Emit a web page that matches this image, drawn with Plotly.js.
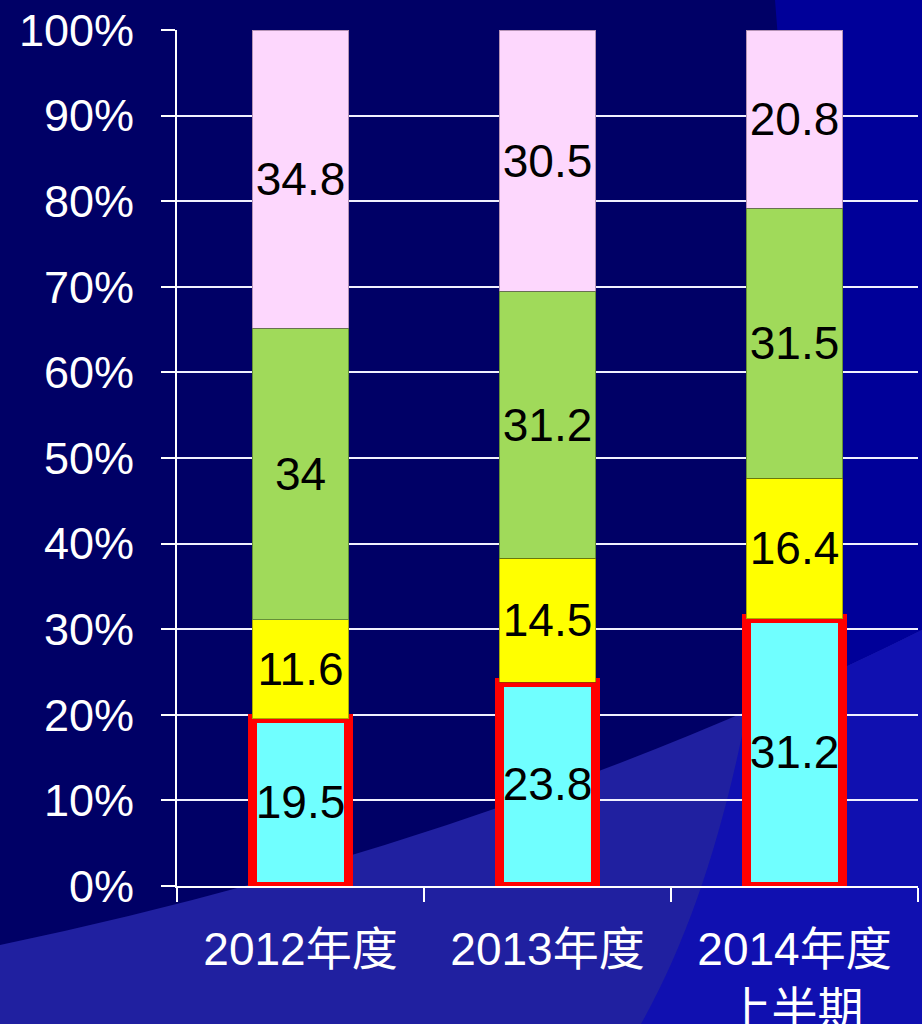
<!DOCTYPE html>
<html>
<head>
<meta charset="utf-8">
<script src="https://cdn.plot.ly/plotly-3.0.1.min.js"></script>
<style>
  html, body { margin: 0; padding: 0; background: #000066; }
  #wrap { position: relative; width: 922px; height: 1024px; overflow: hidden; }
  #bg { position: absolute; left: 0; top: 0; }
  #chart { position: absolute; left: 0; top: 0; width: 922px; height: 1024px; }
</style>
</head>
<body>
<div id="wrap">
  <svg id="bg" width="922" height="1024" viewBox="0 0 922 1024">
    <defs>
      <clipPath id="bandClip">
        <path d="M 0 945 Q 500 840 922 630 L 922 1024 L 0 1024 Z"/>
      </clipPath>
    </defs>
    <rect x="0" y="0" width="922" height="1024" fill="#000066"/>
    <path d="M 775 0 C 800 300, 790 760, 641 1024 L 922 1024 L 922 0 Z" fill="#000099"/>
    <path d="M 0 945 Q 500 840 922 630 L 922 1024 L 0 1024 Z" fill="#2020a0"/>
    <path d="M 775 0 C 800 300, 790 760, 641 1024 L 922 1024 L 922 0 Z" fill="#1010b0" clip-path="url(#bandClip)"/>
  </svg>
  <div id="chart"></div>
</div>
<script>
const categories = ['2012年度', '2013年度', '2014年度<br>上半期'];
const seriesCyan = [19.5, 23.8, 31.2];
const seriesYellow = [11.6, 14.5, 16.4];
const seriesGreen = [34, 31.2, 31.5];
const seriesPink = [34.8, 30.5, 20.8];
const yTickVals = [0, 10, 20, 30, 40, 50, 60, 70, 80, 90, 100];
const yTickText = ['0%', '10%', '20%', '30%', '40%', '50%', '60%', '70%', '80%', '90%', '100%'];

const FONT = 'Liberation Sans, Arial, "Noto Sans CJK SC", sans-serif';

function barTrace(values, color, line) {
  return {
    type: 'bar',
    x: categories,
    y: values,
    text: values.map(v => String(v)),
    texttemplate: '%{text}',
    textposition: 'inside',
    insidetextanchor: 'middle',
    constraintext: 'none',
    textangle: 0,
    textfont: { family: FONT, size: 46, color: '#000000' },
    marker: { color: color, line: line },
    hoverinfo: 'skip'
  };
}

const data = [
  barTrace(seriesCyan, '#70ffff', { color: '#ff0000', width: 9 }),
  barTrace(seriesYellow, '#ffff00', { color: 'rgba(90,90,0,0.5)', width: 1 }),
  barTrace(seriesGreen, '#a0da5a', { color: 'rgba(40,70,20,0.5)', width: 1 }),
  barTrace(seriesPink, '#fdd7fd', { color: 'rgba(110,80,110,0.5)', width: 1 })
];

const layout = {
  width: 922,
  height: 1024,
  margin: { l: 177, r: 4, t: 30, b: 138 },
  paper_bgcolor: 'rgba(0,0,0,0)',
  plot_bgcolor: 'rgba(0,0,0,0)',
  barmode: 'stack',
  barnorm: 'percent',
  bargap: 0.61,
  showlegend: false,
  font: { family: FONT, color: '#ffffff' },
  xaxis: {
    type: 'category',
    range: [-0.5, 2.5],
    tickson: 'boundaries',
    ticks: 'outside',
    ticklen: 14,
    tickwidth: 2,
    tickcolor: '#ffffff',
    showline: true,
    linecolor: '#ffffff',
    linewidth: 2,
    showgrid: false,
    tickfont: { family: FONT, size: 46, color: '#ffffff' },
    ticklabelstandoff: 22,
    fixedrange: true
  },
  yaxis: {
    range: [0, 100],
    tickmode: 'array',
    tickvals: yTickVals,
    ticktext: yTickText,
    showgrid: true,
    gridcolor: '#f0f0ff',
    gridwidth: 2,
    zeroline: false,
    ticks: 'outside',
    ticklen: 14,
    tickwidth: 2,
    tickcolor: '#ffffff',
    showline: true,
    linecolor: '#ffffff',
    linewidth: 2,
    tickfont: { family: FONT, size: 45, color: '#ffffff' },
    ticklabelstandoff: 18,
    fixedrange: true
  }
};

Plotly.newPlot('chart', data, layout, { displayModeBar: false, staticPlot: true });
</script>
</body>
</html>
